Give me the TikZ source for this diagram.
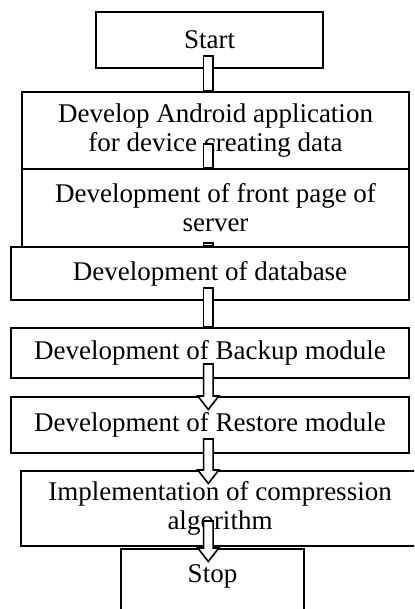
\documentclass[tikz,border=0pt]{standalone}
\usepackage{fontspec}
\setmainfont{Liberation Serif}
\usetikzlibrary{calc}

\begin{document}
\begin{tikzpicture}[
        x=0.5pt, y=-0.5pt,
        procbox/.style={draw, line width=1pt, fill=white, align=center, inner sep=0pt,
            font=\fontsize{13.5}{14.5}\selectfont},
        blockarrow/.style={draw, line width=0.8pt, fill=white, line join=miter}
    ]

    %=== Page frame ===%
    \useasboundingbox (0,0) rectangle (414,609);
    \clip (0,0) rectangle (414,609);

    % Axis of all arrows
    \coordinate (axis) at (208.3,0);

    %=== Process boxes ===%
    \node[procbox, minimum width=113.5pt, minimum height=28pt] (start) at (209.5,40) {Start};
    \node[procbox, minimum width=193.5pt, minimum height=38.5pt] (android) at (215.5,130.5)
        {Develop Android application\\for device creating data};
    \node[procbox, minimum width=193.5pt, minimum height=39pt] (frontpage) at (215.5,208)
        {Development of front page of\\server};
    \node[procbox, minimum width=199pt, minimum height=26.5pt] (database) at (210,273.5)
        {Development of database};
    \node[procbox, minimum width=199pt, minimum height=25pt] (backup) at (210,353)
        {Development of Backup module};
    \node[procbox, minimum width=199pt, minimum height=28pt] (restore) at (210,425)
        {Development of Restore module};
    \node[procbox, minimum width=199pt, minimum height=37.5pt] (compress) at (220,508.5)
        {Implementation of compression\\algorithm};
    \node[procbox, minimum width=91.5pt, minimum height=32pt, text depth=7pt] (stop) at (212.5,581) {Stop};

    %=== Macros for the hollow arrows ===%
    % #1 = source box
    % #2 = target box
    % #3 = rise of the tail above the source bottom (px)
    \newcommand{\flowshaft}[3]{
        \draw[blockarrow] ($(axis |- #1.south)+(-4.75,-#3)$) -- ($(axis |- #2.north)+(-4.75,0)$)
            -- ++(9.5,0) -- ($(axis |- #1.south)+(4.75,-#3)$) -- cycle;
    }
    \newcommand{\flowarrow}[3]{
        \draw[blockarrow] ($(axis |- #1.south)+(-4.75,-#3)$) -- ($(axis |- #2.north)+(-4.75,0)$)
            -- ++(-5.75,0) -- ++(10.5,13.5) -- ++(10.5,-13.5) -- ++(-5.75,0)
            -- ($(axis |- #1.south)+(4.75,-#3)$) -- cycle;
    }

    %=== Arrows ===%
    \flowshaft{start}{android}{13}
    \flowshaft{android}{frontpage}{26}
    \flowshaft{frontpage}{database}{5}
    \flowshaft{database}{backup}{13}
    \flowarrow{backup}{restore}{15}
    \flowarrow{restore}{compress}{15}
    \flowarrow{compress}{stop}{26}

\end{tikzpicture}
\end{document}
